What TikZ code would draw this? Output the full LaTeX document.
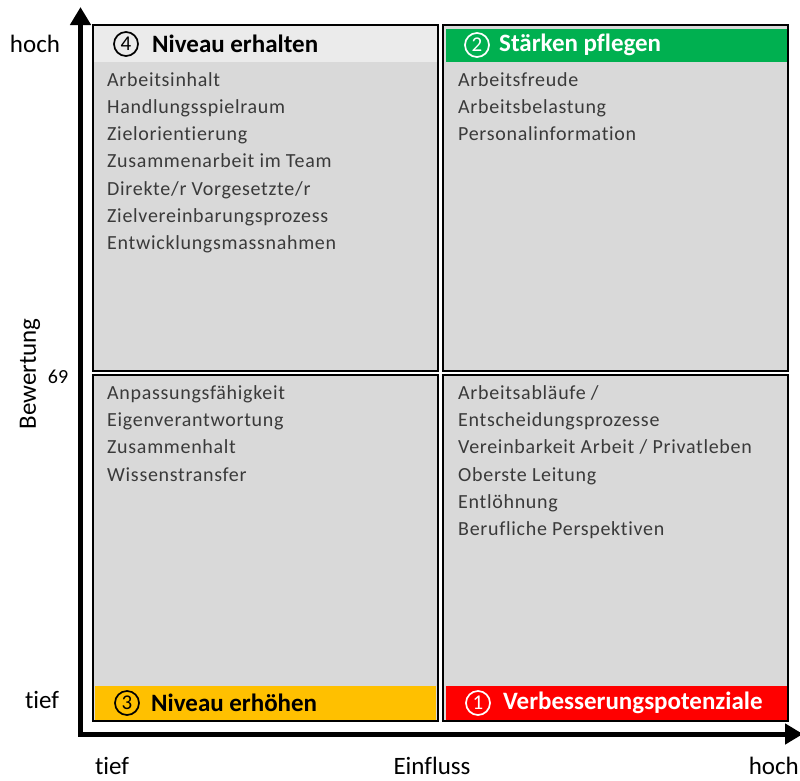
\documentclass[tikz,border=0pt]{standalone}
\usepackage{fontspec}
\setmainfont{Carlito}[Ligatures=NoCommon]
\newfontfamily\itemfont[LetterSpace=3.5, Ligatures=NoCommon]{Carlito}
\usetikzlibrary{arrows.meta,positioning}

\definecolor{qgrau}{HTML}{D9D9D9}
\definecolor{qkopf}{HTML}{EBEBEB}
\definecolor{qgruen}{HTML}{00B050}
\definecolor{qgelb}{HTML}{FFC000}
\definecolor{qrot}{HTML}{FF0000}
\definecolor{qtext}{HTML}{3A3A3A}

\begin{document}
\begin{tikzpicture}[x=1pt, y=-1pt, >={Triangle[length=18pt,width=20pt]},
	item/.style={anchor=base west, inner sep=0pt, text=qtext, font=\itemfont\fontsize{20}{24}\selectfont},
	nummer/.style={circle, draw, line width=1.7pt, inner sep=0pt, minimum size=24pt, font=\fontsize{21}{24}\selectfont},
	titel/.style={anchor=west, inner sep=0pt, font=\bfseries\fontsize{25}{30}\selectfont},
	achse/.style={inner sep=0pt, font=\fontsize{25}{30}\selectfont}]
\useasboundingbox (0,0) rectangle (800,780);

% ---- Quadranten ----
\foreach \qx/\qy in {93/25, 443/25, 93/375, 443/375}
	\fill[qgrau] (\qx,\qy) rectangle ++(345,346);
\fill[qkopf] (94,26) rectangle (437,62);
\fill[qgruen] (446,29) rectangle (787,62);
\fill[qgelb] (95,686) rectangle (436,720);
\fill[qrot] (446,686) rectangle (787,720);
\foreach \qx/\qy in {93/25, 443/25, 93/375, 443/375}
	\draw[line width=2pt] (\qx,\qy) rectangle ++(345,346);

% Kopfzeilen
\node[nummer] (n4) at (126,44) {4};
\node[titel] (t4) at (152,44) {Niveau erhalten};
\node[nummer, draw=white, text=white] (n2) at (477,45) {2};
\node[titel, text=white] (t2) at (499,45) {Stärken pflegen};
\node[nummer] (n3) at (127,703) {3};
\node[titel] (t3) at (151,703) {Niveau erhöhen};
\node[nummer, draw=white, text=white] (n1) at (478,703) {1};
\node[titel, text=white] (t1) at (503,703) {Verbesserungspotenziale};

% Einträge
\foreach \txt [count=\i] in {Arbeitsinhalt, Handlungsspielraum, Zielorientierung,
		Zusammenarbeit im Team, Direkte/r Vorgesetzte/r, Zielvereinbarungsprozess,
		Entwicklungsmassnahmen}
	\node[item] (ol\i) at (107,{86+27.3*(\i-1)}) {\txt};
\foreach \txt [count=\i] in {Arbeitsfreude, Arbeitsbelastung, Personalinformation}
	\node[item] (or\i) at (458,{86+27.3*(\i-1)}) {\txt};
\foreach \txt [count=\i] in {Anpassungsfähigkeit, Eigenverantwortung, Zusammenhalt,
		Wissenstransfer}
	\node[item] (ul\i) at (107,{399.5+27.2*(\i-1)}) {\txt};
\foreach \txt [count=\i] in {Arbeitsabläufe /, Entscheidungsprozesse,
		Vereinbarkeit Arbeit / Privatleben, Oberste Leitung, Entlöhnung,
		Berufliche Perspektiven}
	\node[item] (ur\i) at (458,{399.5+27.2*(\i-1)}) {\txt};

% ---- Achsen ----
\coordinate (ursprung) at (80.5,734);
\coordinate (yende) at (80.5,7);
\coordinate (xende) at (803,734);
\draw[line width=5pt, line join=miter, <->] (yende) -- (ursprung) -- (xende);

\node[achse] (yhoch) at (35,44) {hoch};
\node[achse] (ytief) at (42,700) {tief};
\node[inner sep=0pt, font=\fontsize{20}{24}\selectfont] (ymitte) at (58,377) {69};
\node[achse, rotate=90] (ylabel) at (30,374) {Bewertung};
\node[achse] (xtief) at (112,766) {tief};
\node[achse] (xlabel) at (432,766) {Einfluss};
\node[achse, anchor=east] (xhoch) at (799,766) {hoch};
\end{tikzpicture}
\end{document}
